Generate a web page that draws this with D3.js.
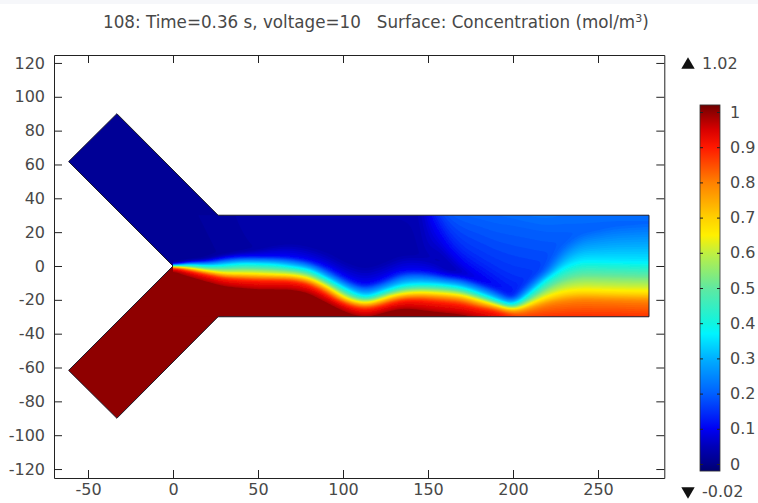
<!DOCTYPE html>
<html lang="en">
<head>
    <meta charset="UTF-8">
    <title>Concentration surface</title>
    <script src="https://d3js.org/d3.v7.min.js"></script>
    <style>
        body { margin: 0; background: #fff; font-family: "DejaVu Sans", sans-serif; }
        svg { display: block; }
        .tick text { fill: #484848; font-size: 16px; font-family: "DejaVu Sans", sans-serif; }
        .tick line, .domain { stroke: #222; }
        .label { fill: #484848; font-size: 16px; }
    </style>
</head>
<body>
<svg id="chart" width="758" height="503"></svg>

<script>
    const titleMain = "108: Time=0.36 s, voltage=10   Surface: Concentration (mol/m";
    const xTicks = [-50, 0, 50, 100, 150, 200, 250];
    const yTicks = [-120, -100, -80, -60, -40, -20, 0, 20, 40, 60, 80, 100, 120];
    const barTicks = [0, 0.1, 0.2, 0.3, 0.4, 0.5, 0.6, 0.7, 0.8, 0.9, 1];
    const dataMax = 1.02;
    const dataMin = -0.02;

    // geometry outline of the channel, x and y in model units
    const outlineX = [0, -61.4, -33, 26.5, 280, 280, 26.5, -33, -61.4];
    const outlineY = [0, 61.7, 90, 30, 30, -30, -30, -90, -61.7];
    const topInletC = 0.015;
    const bottomInletC = 1;

    const colorValues = [-0.02, 0, 0.05, 0.1, 0.2, 0.3, 0.37, 0.4, 0.5, 0.6, 0.65, 0.7, 0.8, 0.9, 0.95, 1, 1.02];
    const colorHex = ["#00006e", "#000088", "#0000b8", "#0000f4", "#0060ff", "#00b0ff", "#00f4ff", "#10f4e0",
        "#60e8a0", "#c0f040", "#fff000", "#ffd000", "#ff8000", "#ff1800", "#d80000", "#8f0000", "#700000"];

    // stations along the channel
    const stationX = [0, 10, 20, 30, 40, 50, 60, 70, 80, 90, 100, 107, 113, 119, 125, 135, 145, 150, 155, 160,
        170, 180, 190, 200, 210, 220, 230, 240, 260, 280];

    // height (y) where the concentration rising from the lower wall crosses each level
    const lowerLevels = [0, 0.1, 0.36, 0.65, 0.8, 0.9, 1];
    const y00 = [1.5, 4, 5, 8, 10, 12, 16, 18, 16, 13, 8, 6, 4, 6, 8, 12, 12, 10, 8, 1,
        -1, -4, -8, -14, 0, 10, 30, 50, 60, 65];
    const y10 = [0.8, 2.5, 3, 5, 6, 6, 6, 5.5, 3.5, -0.4, -6.3, -9.5, -11, -9.5, -7.3, -2.4, -2.4, -3, -4, -5.3,
        -6.3, -9.3, -13, -19, -8, 0.5, 20, 30, 38, 41];
    const y36 = [0.2, 0.8, 0, 0.6, 1.6, 1.4, 1, -0.4, -2, -7.3, -12.8, -16.5, -18.5, -17, -14.6, -11.2, -10.5, -10.6, -10.8, -11.2,
        -12.6, -16.2, -20, -23.7, -16, -7, -0.4, 3.5, 3, 2.5];
    const y65 = [-0.4, -1.4, -3, -4.3, -4.3, -4.6, -5, -5.3, -7, -11.8, -18.5, -21, -22, -21, -18.5, -16.2, -15.5, -15.7, -16, -16.2,
        -17.2, -20, -23, -26, -22, -17.8, -14.8, -14, -14.5, -14.8];
    const y80 = [-0.7, -2.4, -4.3, -6.2, -6.6, -7, -7.2, -7.5, -9.3, -14, -20.4, -23, -24, -23, -21, -18.5, -18, -18.3, -18.7, -19,
        -20, -23, -25, -28, -25.5, -22.5, -21, -20, -20.5, -21];
    const y90 = [-1, -3, -5.3, -7.7, -8.5, -9, -9, -9.3, -11.2, -16.2, -22, -25, -26, -25, -23, -20.5, -20.5, -21, -21.5, -22,
        -23, -25.5, -27, -31, -32, -32, -32, -32, -32, -33];
    const y99 = [-3, -7, -10, -13, -14, -15, -15, -15, -17, -22, -27, -30, -31, -30, -28, -26, -27, -28, -28.5, -29,
        -30, -32, -36, -42, -45, -45, -45, -45, -45, -45];

    // height where the concentration falling from the upper wall crosses each level
    const upperLevels = [0, 0.05, 0.1, 0.15, 0.2, 0.25];
    const u00 = stationX.map(() => -100);
    const u05 = [300, 250, 200, 150, 100, 80, 70, 60, 60, 60, 60, 60, 60, 60, 60, 60, 50, 0, 10, 5,
        -5, -12, -20, -40, -40, -40, -40, -40, -40, -40];
    const u10 = [900, 900, 900, 700, 600, 500, 400, 300, 200, 150, 120, 120, 120, 120, 120, 120, 80, 30, 24, 12,
        1, -6, -14, -25, -25, -25, -25, -25, -25, -25];
    const u15 = [1500, 1500, 1500, 1500, 1500, 1500, 900, 900, 900, 900, 900, 900, 900, 900, 900, 900, 900, 60, 32, 22,
        11, 5, -1, -6, -8, -10, -10, -10, -10, -10];
    const u20 = [2000, 2000, 2000, 2000, 2000, 2000, 1500, 1500, 1500, 1500, 1500, 1500, 1500, 1500, 1500, 1500, 1500, 100, 36, 34,
        30, 28, 25, 24, 22, 20, 20, 20, 22, 22];
    const u25 = [3000, 3000, 3000, 3000, 3000, 3000, 3000, 3000, 3000, 3000, 3000, 3000, 3000, 3000, 3000, 3000, 3000, 200, 60, 55,
        50, 50, 50, 45, 40, 40, 45, 45, 45, 45];

    const svg = d3.select("#chart");

    const x = d3.scaleLinear().domain([-70, 289]).range([54, 664.3]);
    const y = d3.scaleLinear().domain([-125.3, 124.7]).range([478, 55]);
    const barY = d3.scaleLinear().domain([0, 1]).range([464, 112]);
    const color = d3.scaleLinear().domain(colorValues).range(colorHex).clamp(true);

    // faint strip left along the top of the screenshot
    svg.append("rect").attr("width", 758).attr("height", 4).attr("fill", "#f6f7fa");

    const defs = svg.append("defs");
    const outline = d3.line().x(d => x(d[0])).y(d => y(d[1]))(outlineX.map((d, i) => [d, outlineY[i]])) + "Z";
    defs.append("clipPath").attr("id", "channel").append("path").attr("d", outline);
    defs.append("filter").attr("id", "soft")
        .attr("x", "-2%").attr("y", "-2%").attr("width", "104%").attr("height", "104%")
        .append("feGaussianBlur").attr("stdDeviation", 0.7);

    const field = svg.append("g").attr("clip-path", "url(#channel)");

    // concentration on a grid from the isoline heights
    const lowerArrays = [y00, y10, y36, y65, y80, y90, y99].map(a => d3.scaleLinear().domain(stationX).range(a));
    const upperArrays = [u00, u05, u10, u15, u20, u25].map(a => d3.scaleLinear().domain(stationX).range(a));

    const gridX = d3.range(0, 280.5, 1);
    const gridY = d3.range(30, -30.25, -0.5);
    const values = [];
    gridY.forEach(gy => {
        gridX.forEach(gx => {
            const low = d3.scaleLinear().domain(lowerArrays.map(s => s(gx))).range(lowerLevels).clamp(true)(gy);
            const up = d3.scaleLinear().domain(upperArrays.map(s => s(gx))).range(upperLevels).clamp(true)(gy);
            values.push(Math.max(low, up));
        });
    });
    // take the corners out of the station-to-station joins
    d3.blur2({data: values, width: gridX.length, height: gridY.length}, 3, 1);

    // stop below 1 so the saturated part stays one flat colour
    const contours = d3.contours()
        .size([gridX.length, gridY.length])
        .thresholds(d3.range(-0.02, 0.985, 0.01))(values);

    const colScale = d3.scaleLinear().domain([0.5, gridX.length - 0.5]).range([0, 280]);
    const rowScale = d3.scaleLinear().domain([0.5, gridY.length - 0.5]).range([30, -30]);
    const project = d3.geoPath(d3.geoTransform({
        point(px, py) { this.stream.point(x(colScale(px)), y(rowScale(py))); }
    }));

    field.append("g").attr("filter", "url(#soft)")
        .selectAll("path")
        .data(contours)
        .join("path")
        .attr("d", project)
        .attr("fill", d => color(d.value >= 0.975 ? 1 : d.value + 0.005));

    // inlets: flat values, on top so they hide the edge of the grid
    const inletBoxes = [
        {x0: -70, x1: 0, y0: 95, y1: 0, c: topInletC},
        {x0: -1, x1: 30, y0: 95, y1: 30, c: topInletC},
        {x0: -70, x1: 0, y0: 0, y1: -95, c: bottomInletC},
        {x0: -1, x1: 30, y0: -30, y1: -95, c: bottomInletC}
    ];
    field.selectAll(".inlet")
        .data(inletBoxes)
        .join("rect")
        .attr("class", "inlet")
        .attr("x", d => x(d.x0)).attr("width", d => x(d.x1) - x(d.x0))
        .attr("y", d => y(d.y0)).attr("height", d => y(d.y1) - y(d.y0))
        .attr("fill", d => color(d.c));

    svg.append("path")
        .attr("d", outline)
        .attr("fill", "none")
        .attr("stroke", "#1c1c2a")
        .attr("stroke-width", 1);

    // frame with ticks pointing inwards
    const fmt = d => String(d);
    svg.append("g").attr("transform", `translate(0,${y.range()[0]})`)
        .call(d3.axisBottom(x).tickValues(xTicks).tickFormat(fmt).tickSizeInner(-8).tickSizeOuter(0).tickPadding(6));
    svg.append("g").attr("transform", `translate(0,${y.range()[1]})`)
        .call(d3.axisTop(x).tickValues(xTicks).tickFormat("").tickSizeInner(-8).tickSizeOuter(0));
    svg.append("g").attr("transform", `translate(${x.range()[0]},0)`)
        .call(d3.axisLeft(y).tickValues(yTicks).tickFormat(fmt).tickSizeInner(-8).tickSizeOuter(0).tickPadding(9));
    svg.append("g").attr("transform", `translate(${x.range()[1]},0)`)
        .call(d3.axisRight(y).tickValues(yTicks).tickFormat("").tickSizeInner(-8).tickSizeOuter(0));

    // title
    const title = svg.append("text")
        .attr("x", 103).attr("y", 28)
        .attr("fill", "#484848")
        .style("font-size", "16.75px")
        .style("white-space", "pre")
        .attr("xml:space", "preserve");
    title.append("tspan").text(titleMain);
    title.append("tspan").attr("dy", -6).style("font-size", "11px").text("3");
    title.append("tspan").attr("dy", 6).text(")");

    // color bar
    const gradient = defs.append("linearGradient").attr("id", "barFill")
        .attr("x1", 0).attr("y1", 1).attr("x2", 0).attr("y2", 0);
    gradient.selectAll("stop")
        .data(colorValues)
        .join("stop")
        .attr("offset", d => (d - dataMin) / (dataMax - dataMin))
        .attr("stop-color", d => color(d));

    svg.append("rect")
        .attr("x", 700).attr("width", 20)
        .attr("y", barY(dataMax)).attr("height", barY(dataMin) - barY(dataMax))
        .attr("fill", "url(#barFill)")
        .attr("stroke", "#333")
        .attr("stroke-width", 0.8);

    svg.append("g").attr("transform", "translate(720,0)")
        .call(d3.axisRight(barY).tickValues(barTicks).tickFormat(fmt).tickSizeInner(-3).tickSizeOuter(0).tickPadding(10))
        .call(g => g.select(".domain").remove());
    svg.append("g").attr("transform", "translate(700,0)")
        .call(d3.axisLeft(barY).tickValues(barTicks).tickFormat("").tickSizeInner(-3).tickSizeOuter(0))
        .call(g => g.select(".domain").remove());

    // max / min markers
    const tri = d3.symbol().type(d3.symbolTriangle).size(78);
    svg.append("path").attr("d", tri()).attr("transform", "translate(688,65)").attr("fill", "#111");
    svg.append("path").attr("d", tri()).attr("transform", "translate(688,491) rotate(180)").attr("fill", "#111");
    svg.append("text").attr("class", "label").attr("x", 702).attr("y", 69).text(dataMax);
    svg.append("text").attr("class", "label").attr("x", 702).attr("y", 497).text(dataMin);
</script>
</body>
</html>
